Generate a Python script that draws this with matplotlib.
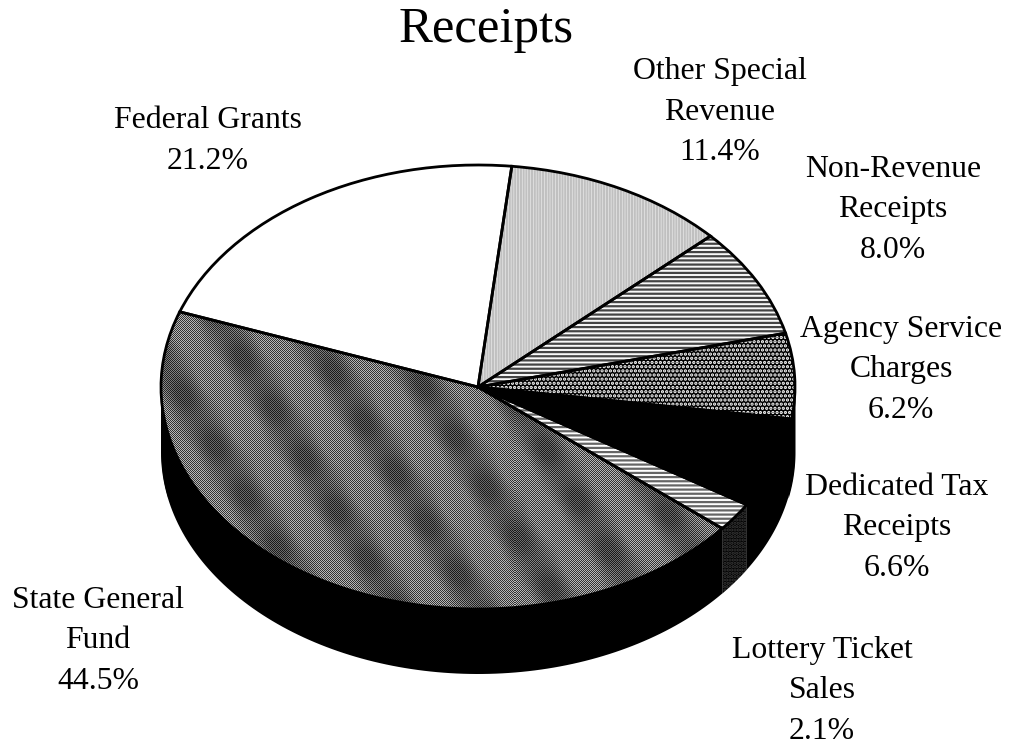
import numpy as np
import matplotlib
matplotlib.use("Agg")
import matplotlib.pyplot as plt
from matplotlib.patches import Polygon

# Share of receipts by source, in percent
categories = ["State General\nFund", "Lottery Ticket\nSales", "Dedicated Tax\nReceipts",
              "Agency Service\nCharges", "Non-Revenue\nReceipts",
              "Other Special\nRevenue", "Federal Grants"]
shares = [44.5, 2.1, 6.6, 6.2, 8.0, 11.4, 21.2]
title = "Receipts"

W, H = 1022, 746
CX, CY = 478, 387      # pie centre in pixels, y downward
RX, RY = 317, 222      # ellipse radii in pixels
DEPTH = 65 / RY        # thickness of the disc in axis units
START = 160.2

plt.rcParams["font.family"] = ["Liberation Serif", "DejaVu Serif"]
plt.rcParams["hatch.linewidth"] = 1.6

fig = plt.figure(figsize=(W / 100, H / 100), dpi=100, facecolor="white")
ax = fig.add_axes([0, 0, 1, 1])


def px(x, y):
    return (x - CX) / RX, (CY - y) / RY


# Top face wedges: fill and hatch first, black outline afterwards
faces = [
    dict(facecolor="#808080", edgecolor="none"),
    dict(facecolor="white", edgecolor="#666666", hatch="----"),
    dict(facecolor="black", edgecolor="black"),
    dict(facecolor="black", edgecolor="white", hatch="...."),
    dict(facecolor="#f8f8f8", edgecolor="#444444", hatch="----"),
    dict(facecolor="#f4f4f4", edgecolor="#c0c0c0", hatch="||||||"),
    dict(facecolor="white", edgecolor="white"),
]
wedges, _ = ax.pie(shares, startangle=START, counterclock=True, radius=1, center=(0, 0),
                   wedgeprops=dict(linewidth=0))
for w, style in zip(wedges, faces):
    w.set(**style)
    w.set_zorder(3)

ax.set_aspect("auto")
x0, y1 = px(0, 0)
x1, y0 = px(W, H)
ax.set_xlim(x0, x1)
ax.set_ylim(y0, y1)
ax.axis("off")

# Side wall of the disc, following the slice angles along the lower rim
edges = START + np.concatenate([[0], np.cumsum(shares)]) * 3.6
for i, (a, b) in enumerate(zip(edges[:-1], edges[1:])):
    for s, e in [(max(a, 180), min(b, 360)), (360, min(b, 540))]:
        if e <= s:
            continue
        t = np.radians(np.linspace(s, e, 120))
        keep = np.sin(t) <= 0.0005
        if keep.sum() < 2:
            continue
        t = t[keep]
        top = np.column_stack([np.cos(t), np.sin(t)])
        bot = top[::-1] - [0, DEPTH]
        is_lottery = categories[i].startswith("Lottery")
        ax.add_patch(Polygon(np.vstack([top, bot]), closed=True, facecolor="black",
                             edgecolor="#3c3c3c" if is_lottery else "black",
                             hatch="....." if is_lottery else None,
                             linewidth=0, zorder=2))
# Right and left shoulders of the wall
t = np.radians(np.linspace(-12, 0, 30))
ax.fill_between(np.cos(t), np.sin(t), np.sin(t) - DEPTH, color="black", lw=0, zorder=2)
t = np.radians(np.linspace(180, 192, 30))
ax.fill_between(np.cos(t), np.sin(t), np.sin(t) - DEPTH, color="black", lw=0, zorder=2)

# Dithered grey of the largest slice, with the diagonal banding of its screen
yy, xx = np.mgrid[0:H, 0:W]
checker = (xx + yy) % 2
streaks = np.sin(2 * np.pi * (xx - 0.62 * yy) / 82)
along = 0.75 + 0.25 * np.sin(2 * np.pi * (0.62 * xx + yy) / 70)
shade = np.clip(streaks * along * 0.8 + 0.3, 0, 1)
light_value = 0.72 - 0.30 * shade
dark_value = 0.20 - 0.1 * shade
texture = np.where(checker == 1, light_value, dark_value)
im = ax.imshow(texture, cmap="gray", vmin=0, vmax=1, interpolation="nearest",
               extent=(x0, x1, y0, y1), origin="upper", aspect="auto", zorder=4)
im.set_clip_path(wedges[0])

# Slice outlines
outlines, _ = ax.pie(shares, startangle=START, radius=1, center=(0, 0),
                     wedgeprops=dict(fill=False, edgecolor="black", linewidth=2.0))
for w in outlines:
    w.set_zorder(5)
ax.set_aspect("auto")
ax.set_xlim(x0, x1)
ax.set_ylim(y0, y1)
ax.axis("off")

# Labels carry the category and its share
label_xy = [(98, 641), (822, 691), (897, 528), (901, 370), (893, 210), (720, 112), (208, 141)]
for name, val, (lx, ly) in zip(categories, shares, label_xy):
    fig.text(lx / W, 1 - ly / H, f"{name}\n{val:.1f}%", ha="center", va="center",
             fontsize=22.9, linespacing=1.54, color="black")

fig.text(486 / W, 1 - 30 / H, title, ha="center", va="center", fontsize=36.5, color="black")

fig.savefig("out.png", dpi=100, facecolor="white")
